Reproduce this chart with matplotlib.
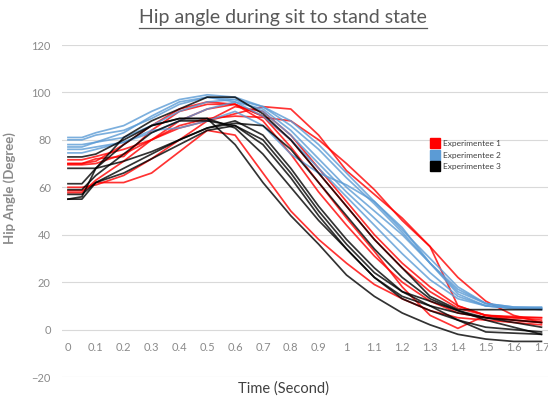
import matplotlib
matplotlib.use('Agg')
import matplotlib.pyplot as plt
from matplotlib.lines import Line2D

plt.rcParams['font.family'] = ['Lato', 'DejaVu Sans']

# ---- data: hip angle (degree) per trial, sampled on time_s ----
time_s = [0, 0.05, 0.1, 0.2, 0.3, 0.4, 0.5, 0.6, 0.7, 0.8, 0.9,
          1.0, 1.1, 1.2, 1.3, 1.4, 1.5, 1.6, 1.7]

exp1_trials = [
    [70, 70, 72, 73, 84, 92, 95, 95, 90, 80, 66, 52, 38, 26, 16, 9, 6, 5, 5],
    [71.6, 71.6, 73, 76, 80, 85, 88, 91, 94, 93, 82, 67, 57, 47, 35, 10, 6, 5, 4],
    [69.5, 69.5, 70, 74, 80, 86, 89, 90, 89.5, 88, 80, 70, 59, 46, 35, 22, 12, 6, 3],
    [58.5, 58.5, 62, 62, 66, 75, 84, 82, 66, 50, 38, 28, 19, 13, 8, 5, 4, 3, 2],
    [60, 60, 61, 65, 72, 80, 88, 94, 92, 82, 68, 54, 40, 28, 18, 10, 6, 4, 3],
    [57.7, 57.7, 63, 71, 80, 88, 93, 95, 90, 77, 62, 47, 33, 18, 6, 0.5, 6, 5.5, 5],
    [70, 70, 71, 78, 86, 93, 96, 95, 88, 74, 58, 44, 31, 20, 12, 7, 5, 4, 3],
]
exp2_trials = [
    [81, 81, 83, 86, 92, 97, 99, 98, 94, 86, 76, 64, 53, 41, 28, 16, 11, 9.5, 9.5],
    [80, 80, 82, 84, 89, 95, 98, 97, 92, 82, 70, 58, 47, 36, 24, 14, 10, 9, 9],
    [78, 78, 79, 81, 86, 92, 96, 97, 94, 88, 78, 66, 54, 42, 30, 18, 11, 9, 8.5],
    [76, 76, 77, 79, 83, 88, 93, 96, 93, 84, 72, 60, 50, 40, 28, 17, 11, 9.5, 9],
    [74.5, 74.5, 76, 79, 84, 85, 88, 92, 86, 74, 66, 61, 54, 43, 28, 15, 10, 9, 8.5],
    [77, 77, 79, 83, 90, 96, 98, 96, 90, 80, 68, 56, 44, 32, 21, 13, 10, 9, 9],
]
exp3_trials = [
    [55, 56, 68, 81, 88, 93, 98, 98, 91, 80, 66, 52, 38, 26, 14, 8.4, 8.4, 8.4, 8.4],
    [61.5, 61.5, 68, 78, 86, 89, 89, 78, 62, 48, 36, 23, 14, 7, 2, -2, -4, -5, -5],
    [72.8, 72.8, 74, 80, 86, 89, 89, 85, 74, 60, 46, 34, 22, 13, 8, 4, 1, 0, -1],
    [68, 68, 68, 71, 75, 80, 85, 87, 86, 76, 62, 48, 34, 22, 13, 8, 5, 4, 3],
    [57, 57, 62, 66, 72, 78, 84, 86, 80, 66, 50, 36, 24, 16, 12, 8, 4, 1, -2],
    [55, 55, 62, 68, 74, 80, 85, 88, 82, 68, 52, 38, 26, 16, 10, 4, -1, -1.5, -2],
    [59, 59, 65, 74, 83, 88, 88, 86, 78, 64, 48, 34, 22, 14, 10, 7, 5, 3, 1],
]

series_names = ['Experimentee 1', 'Experimentee 2', 'Experimentee 3']
series_colors = ['#ff0000', '#5b9bd5', '#000000']
series_trials = [exp1_trials, exp2_trials, exp3_trials]

x_ticks = [0, 0.1, 0.2, 0.3, 0.4, 0.5, 0.6, 0.7, 0.8, 0.9,
           1.0, 1.1, 1.2, 1.3, 1.4, 1.5, 1.6, 1.7]
x_tick_labels = ['0', '0.1', '0.2', '0.3', '0.4', '0.5', '0.6', '0.7', '0.8', '0.9',
                 '1', '1.1', '1.2', '1.3', '1.4', '1.5', '1.6', '1.7']
y_ticks = [-20, 0, 20, 40, 60, 80, 100, 120]

# ---- figure ----
W, H = 548, 396
fig = plt.figure(figsize=(W / 100, H / 100), dpi=100)
ax = fig.add_axes([62 / W, 19 / H, 486 / W, 332 / H])

for trials, color in zip(series_trials, series_colors):
    for vals in trials:
        ax.plot(time_s, vals, color=color, lw=1.25, alpha=0.8)

ax.set_xlim(-0.0215, 1.7235)
ax.set_ylim(-20, 120)
ax.set_yticks(y_ticks)
ax.grid(axis='y', color='#d9d9d9', lw=0.8)
ax.set_axisbelow(True)
for s in ['top', 'right', 'left']:
    ax.spines[s].set_visible(False)
ax.spines['bottom'].set_position(('data', 0))
ax.spines['bottom'].set_visible(False)
ax.set_xticks(x_ticks)
ax.set_xticklabels(x_tick_labels)
ax.tick_params(axis='y', length=0, pad=8, labelsize=8, labelcolor='#8a8a8a')
ax.tick_params(axis='x', length=0, pad=9, labelsize=8, labelcolor='#8a8a8a')

ax.set_ylabel('Hip Angle (Degree)', fontsize=9.5, fontweight='bold', color='#8a8a8a')
ax.yaxis.set_label_coords(16 / W, 1 - 188 / H, transform=fig.transFigure)

# title with underline
title = fig.text(283 / W, 1 - 17 / H, 'Hip angle during sit to stand state',
                 ha='center', va='center', fontsize=14, color='#595959')
fig.canvas.draw()
bb = title.get_window_extent(fig.canvas.get_renderer())
uy = 1 - 27.5 / H
fig.add_artist(Line2D([bb.x0 / W, bb.x1 / W], [uy, uy], color='#595959', lw=0.9))

fig.text(283 / W, 1 - 381 / H, 'Time (Second)', ha='center', va='top',
         fontsize=10.5, color='#404040')

handles = [Line2D([], [], marker='s', ls='none', color=c, markersize=7)
           for c in series_colors]
leg = fig.legend(handles, series_names, loc='upper left',
                 bbox_to_anchor=(431 / W, 1 - 140 / H), frameon=False,
                 fontsize=6, handlelength=1.0, handletextpad=0.4,
                 labelspacing=0.55, borderpad=0, borderaxespad=0)
for t in leg.get_texts():
    t.set_color('#404040')

fig.savefig('out.png', dpi=100)
